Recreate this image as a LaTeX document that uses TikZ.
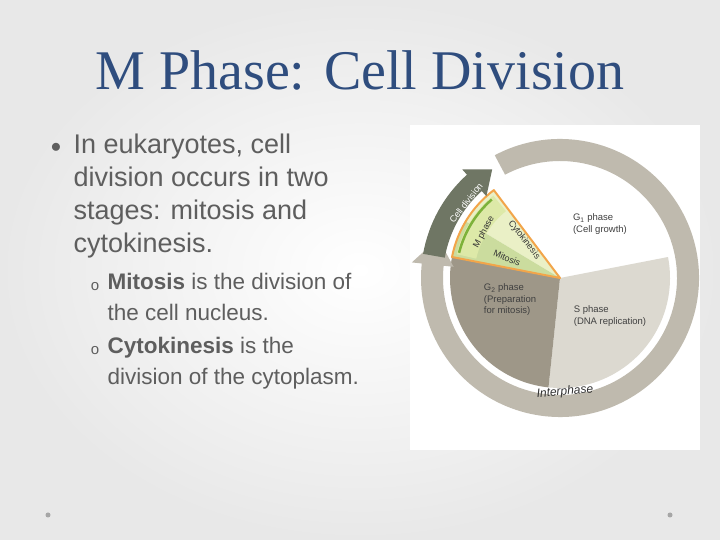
\documentclass[tikz,border=0pt]{standalone}
\usepackage{fontspec}
\setmainfont{Liberation Serif}
\setsansfont{Liberation Sans}
\usepackage{xcolor}
\definecolor{titleblue}{HTML}{2F4D7E}
\definecolor{bodygray}{HTML}{5E5E5E}
\definecolor{gone}{HTML}{FFFFFF}
\definecolor{sph}{HTML}{DCD9D0}
\definecolor{gtwo}{HTML}{9E9788}
\definecolor{ringgray}{HTML}{BFBAAE}
\definecolor{divgray}{HTML}{6F7664}
\definecolor{cyto}{HTML}{EAF0C6}
\definecolor{mito}{HTML}{CBDC9E}
\definecolor{mband}{HTML}{DDE9A8}
\definecolor{mgreen}{HTML}{7DB23A}
\definecolor{wedgeline}{HTML}{F2A54A}
\usetikzlibrary{calc}

\begin{document}
\begin{tikzpicture}[
  x=1pt,
  y=1pt,
  bodytext/.style={anchor=north west, align=left, text=bodygray, font=\sffamily\fontsize{27}{33}\selectfont},
  subtext/.style={anchor=north west, align=left, text=bodygray, font=\sffamily\fontsize{22.5}{31}\selectfont},
  phase/.style={font=\sffamily\fontsize{9.5}{11.5}\selectfont, text=black!75, align=left},
  arclabel/.style={font=\sffamily\fontsize{9}{10}\selectfont, text=black!80},
]

% Slide background
\shade[inner color=white, outer color=gray!18] (0,0) rectangle (720,540);
\useasboundingbox (0,0) rectangle (720,540);

% Title
\node[text=titleblue, font=\fontsize{56}{60}\selectfont] (title) at (360,470) {M Phase: Cell Division};

% Bullets
\node[text=bodygray, font=\sffamily\fontsize{20}{20}\selectfont] (dot) at (56,392) {$\bullet$};
\node[bodytext] (main) at (70,410) {In eukaryotes, cell\\division occurs in two\\stages: mitosis and\\cytokinesis.};
\node[text=bodygray, font=\sffamily\fontsize{15}{15}\selectfont] (oa) at (95,253) {o};
\node[text=bodygray, font=\sffamily\fontsize{15}{15}\selectfont] (ob) at (95,189) {o};
\node[subtext] (mit) at (104,270) {\textbf{Mitosis} is the division of\\the cell nucleus.};
\node[subtext] (cyt) at (104,206) {\textbf{Cytokinesis} is the\\division of the cytoplasm.};

% Corner dots
\fill[gray!70] (48,25) circle (2.5);
\fill[gray!70] (670,25) circle (2.5);

% Image panel
\fill[white] (410,90) rectangle (700,415);
\coordinate (c) at (560,262);

% Phase sectors
\fill[gone] (c) -- ([shift={(127:110)}]c) arc[start angle=127, end angle=11, radius=110] -- cycle;
\fill[sph] (c) -- ([shift={(11:110)}]c) arc[start angle=11, end angle=-96, radius=110] -- cycle;
\fill[gtwo] (c) -- ([shift={(264:110)}]c) arc[start angle=264, end angle=169, radius=110] -- cycle;
\fill[cyto] (c) -- ([shift={(127:110)}]c) arc[start angle=127, end angle=149, radius=110] -- cycle;
\fill[mito] (c) -- ([shift={(149:110)}]c) arc[start angle=149, end angle=169, radius=110] -- cycle;
\fill[mband] ([shift={(129:86)}]c) arc[start angle=129, end angle=167, radius=86]
  -- ([shift={(167:106)}]c) arc[start angle=167, end angle=129, radius=106] -- cycle;
\draw[mgreen, line width=2.5pt] ([shift={(166:104)}]c) arc[start angle=166, end angle=131, radius=104];
\draw[wedgeline, line width=2pt, line join=round] (c) -- ([shift={(127:110)}]c) arc[start angle=127, end angle=169, radius=110] -- cycle;

% Interphase ring
\fill[ringgray] ([shift={(118:139)}]c) arc[start angle=118, end angle=-186, radius=139]
  -- ([shift={(174:149)}]c) -- ([shift={(162:128)}]c) -- ([shift={(174:107)}]c)
  -- ([shift={(174:117)}]c) arc[start angle=-186, end angle=118, radius=117] -- cycle;

% Cell division arrow
\fill[divgray] ([shift={(170:139)}]c) arc[start angle=170, end angle=132, radius=139]
  -- ([shift={(132:146)}]c) -- ([shift={(122:128)}]c) -- ([shift={(132:110)}]c)
  -- ([shift={(132:117)}]c) arc[start angle=132, end angle=170, radius=117] -- cycle;

% Labels
\node[phase] (g1) at (600,316) {G\textsubscript{1} phase\\(Cell growth)};
\node[phase] (s) at (610,224) {S phase\\(DNA replication)};
\node[phase] (g2) at (510,240) {G\textsubscript{2} phase\\(Preparation\\for mitosis)};
\node[arclabel, font=\sffamily\fontsize{12}{12}\selectfont\itshape, rotate=5] (inter) at (565,148) {Interphase};
\node[arclabel, text=white, rotate=52] (cd) at (466,337) {Cell division};
\node[arclabel, rotate=62] (mp) at (484,308) {M phase};
\node[arclabel, rotate=-52] (ck) at (524,300) {Cytokinesis};
\node[arclabel, rotate=-22] (mi) at (507,282) {Mitosis};

\end{tikzpicture}
\end{document}
